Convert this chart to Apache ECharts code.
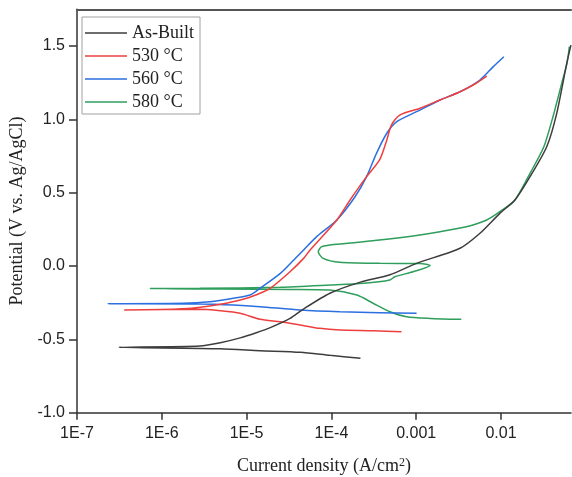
<!DOCTYPE html>
<html>
<head>
<meta charset="utf-8">
<script src="https://cdn.jsdelivr.net/npm/echarts@6/dist/echarts.min.js"></script>
<style>
html,body{margin:0;padding:0;background:#fff;}
#chart{width:572px;height:477px;}
</style>
</head>
<body>
<div id="chart"></div>
<script>
// ---- data (current density A/cm2, potential V) ----
const seriesNames = ['As-Built', '530 °C', '560 °C', '580 °C'];
const xTickLabels = ['1E-7', '1E-6', '1E-5', '1E-4', '0.001', '0.01'];
const yTickLabels = ['-1.0', '-0.5', '0.0', '0.5', '1.0', '1.5'];

const asBuiltCurrent = [2.2e-4, 9.6e-5, 4.3e-5, 1.44e-5, 4.9e-6, 3.1e-7,
  2.8e-6, 4.9e-6, 8.4e-6, 1.3e-5, 1.9e-5, 3.25e-5, 4.5e-5, 9.6e-5, 2.2e-4, 4.9e-4, 1.01e-3,
  3.29e-3, 5.65e-3, 9.7e-3, 1.46e-2, 2.2e-2, 3.46e-2, 4.54e-2, 5.96e-2, 6.68e-2];
const asBuiltPotential = [-0.629, -0.609, -0.588, -0.577, -0.564, -0.554,
  -0.545, -0.523, -0.49, -0.455, -0.42, -0.357, -0.30, -0.186, -0.11, -0.06, 0.018,
  0.121, 0.223, 0.359, 0.450, 0.609, 0.813, 1.041, 1.382, 1.506];

const c530Current = [6.7e-4, 3.1e-4, 1.26e-4, 7.3e-5, 4.3e-5, 2.5e-5, 1.44e-5, 8.4e-6, 4.9e-6, 2.8e-6, 3.6e-7,
  1.8e-6, 4.9e-6, 1.0e-5, 1.44e-5, 1.9e-5, 3.25e-5, 4.7e-5, 5.6e-5, 1.16e-4, 1.66e-4, 2.6e-4,
  3.7e-4, 4.5e-4, 5.1e-4, 6.4e-4, 1.11e-3, 1.91e-3, 3.29e-3, 4.7e-3, 6.8e-3];
const c530Potential = [-0.448, -0.441, -0.436, -0.425, -0.402, -0.380, -0.363, -0.322, -0.305, -0.295, -0.300,
  -0.292, -0.261, -0.220, -0.186, -0.152, -0.039, 0.052, 0.109, 0.314, 0.450, 0.609,
  0.723, 0.859, 0.961, 1.029, 1.075, 1.132, 1.188, 1.234, 1.295];

const c560Current = [1.01e-3, 3.7e-4, 1.26e-4, 4.3e-5, 1.44e-5, 7.0e-6, 2.8e-6, 2.3e-7,
  1.8e-6, 3.7e-6, 7.0e-6, 1.1e-5, 1.44e-5, 2.5e-5, 3.6e-5, 4.7e-5, 6.7e-5, 1.16e-4, 1.9e-4,
  2.6e-4, 3.4e-4, 4.5e-4, 5.9e-4, 1.01e-3, 1.91e-3, 3.29e-3, 5.65e-3, 8.1e-3, 1.08e-2];
const c560Potential = [-0.322, -0.318, -0.312, -0.300, -0.277, -0.266, -0.259, -0.257,
  -0.254, -0.243, -0.220, -0.198, -0.152, -0.050, 0.041, 0.109, 0.200, 0.314, 0.472,
  0.609, 0.768, 0.905, 0.984, 1.052, 1.132, 1.188, 1.268, 1.359, 1.427];

const c580Current = [3.4e-3, 1.46e-3, 7.7e-4, 4.9e-4, 3.1e-4, 2.0e-4, 9.6e-5, 3.25e-5, 4.9e-6, 7.3e-7,
  2.8e-6, 2.5e-5, 9.6e-5, 2.4e-4, 4.9e-4, 5.6e-4, 9.2e-4, 1.46e-3, 1.11e-3, 3.7e-4, 1.26e-4,
  8.0e-5, 7.0e-5, 7.7e-5, 1.26e-4, 3.7e-4, 9.2e-4, 1.91e-3, 3.9e-3, 6.8e-3, 9.7e-3,
  1.46e-2, 2.2e-2, 3.2e-2, 4.1e-2, 5.2e-2, 6.0e-2, 6.4e-2];
const c580Potential = [-0.363, -0.357, -0.346, -0.312, -0.254, -0.198, -0.164, -0.160, -0.157, -0.153,
  -0.152, -0.145, -0.130, -0.118, -0.095, -0.073, -0.039, 0.003, 0.017, 0.018, 0.025,
  0.052, 0.097, 0.132, 0.150, 0.177, 0.205, 0.234, 0.268, 0.314, 0.370,
  0.450, 0.632, 0.813, 1.018, 1.245, 1.382, 1.495];

const seriesColors = ['#3d3d3d', '#ee3f3f', '#2b6fe0', '#2f9e5c'];

function zip(xs, ys) { return xs.map((x, i) => [x, ys[i]]); }
const seriesData = [
  zip(asBuiltCurrent, asBuiltPotential),
  zip(c530Current, c530Potential),
  zip(c560Current, c560Potential),
  zip(c580Current, c580Potential)
];

const chart = echarts.init(document.getElementById('chart'), null, { renderer: 'canvas' });
const serif = '"Liberation Serif", "Times New Roman", serif';
const sans = '"Liberation Sans", Arial, sans-serif';

chart.setOption({
  animation: false,
  backgroundColor: '#fff',
  grid: { left: 77, top: 9.3, width: 494, height: 403.4, containLabel: false, outerBoundsMode: 'none' },
  legend: {
    orient: 'vertical', left: 82, top: 17,
    padding: [7, 6, 3, 3],
    icon: 'rect',
    itemWidth: 42, itemHeight: 1.5, itemGap: 5,
    borderColor: '#a0a0a0', borderWidth: 1,
    textStyle: { fontFamily: serif, fontSize: 18, color: '#222', lineHeight: 18 },
    data: seriesNames
  },
  xAxis: [{
    type: 'log', logBase: 10, min: 1e-7, max: 0.0669,
    name: 'Current density (A/cm{sup|2})',
    nameLocation: 'middle', nameGap: 44,
    nameTextStyle: { fontFamily: serif, fontSize: 18, color: '#222',
      rich: { sup: { fontFamily: serif, fontSize: 12, verticalAlign: 'top', padding: [0, 0, 8, 0], color: '#222' } } },
    axisLine: { onZero: false, lineStyle: { color: '#333', width: 1.5 } },
    axisTick: { inside: false, length: 7, lineStyle: { color: '#333', width: 1.5 } },
    axisLabel: { margin: 13, fontFamily: sans, fontSize: 16, color: '#222', showMaxLabel: false,
      formatter: function (v) {
        const e = Math.log10(v);
        if (Math.abs(e - Math.round(e)) > 1e-6) return '';
        return xTickLabels[Math.round(e) + 7] || '';
      } },
    splitLine: { show: false }
  }, {
    type: 'value', position: 'top', min: 0, max: 1,
    axisLine: { show: true, onZero: false, lineStyle: { color: '#555', width: 2 } },
    axisTick: { show: false }, axisLabel: { show: false }, splitLine: { show: false }
  }],
  yAxis: {
    type: 'value', min: -1.0, max: 1.75, interval: 0.5,
    name: 'Potential (V vs. Ag/AgCl)',
    nameLocation: 'middle', nameGap: 47,
    nameTextStyle: { fontFamily: serif, fontSize: 18, color: '#222' },
    axisLine: { onZero: false, lineStyle: { color: '#333', width: 1.5 } },
    axisTick: { inside: false, length: 8, lineStyle: { color: '#333', width: 1.5 } },
    axisLabel: { margin: 12, fontFamily: sans, fontSize: 16, color: '#222', showMaxLabel: false,
      formatter: function (v) {
        const k = Math.round((v + 1.0) / 0.5);
        if (Math.abs(v - (-1.0 + k * 0.5)) > 1e-6) return '';
        return yTickLabels[k] || '';
      } },
    splitLine: { show: false }
  },
  series: seriesNames.map((n, i) => ({
    name: n, type: 'line', data: seriesData[i],
    xAxisIndex: 0,
    symbol: 'none', smooth: 0.25,
    lineStyle: { color: seriesColors[i], width: 1.5 },
    itemStyle: { color: seriesColors[i] },
    z: 10 - i
  }))
});
</script>
</body>
</html>
